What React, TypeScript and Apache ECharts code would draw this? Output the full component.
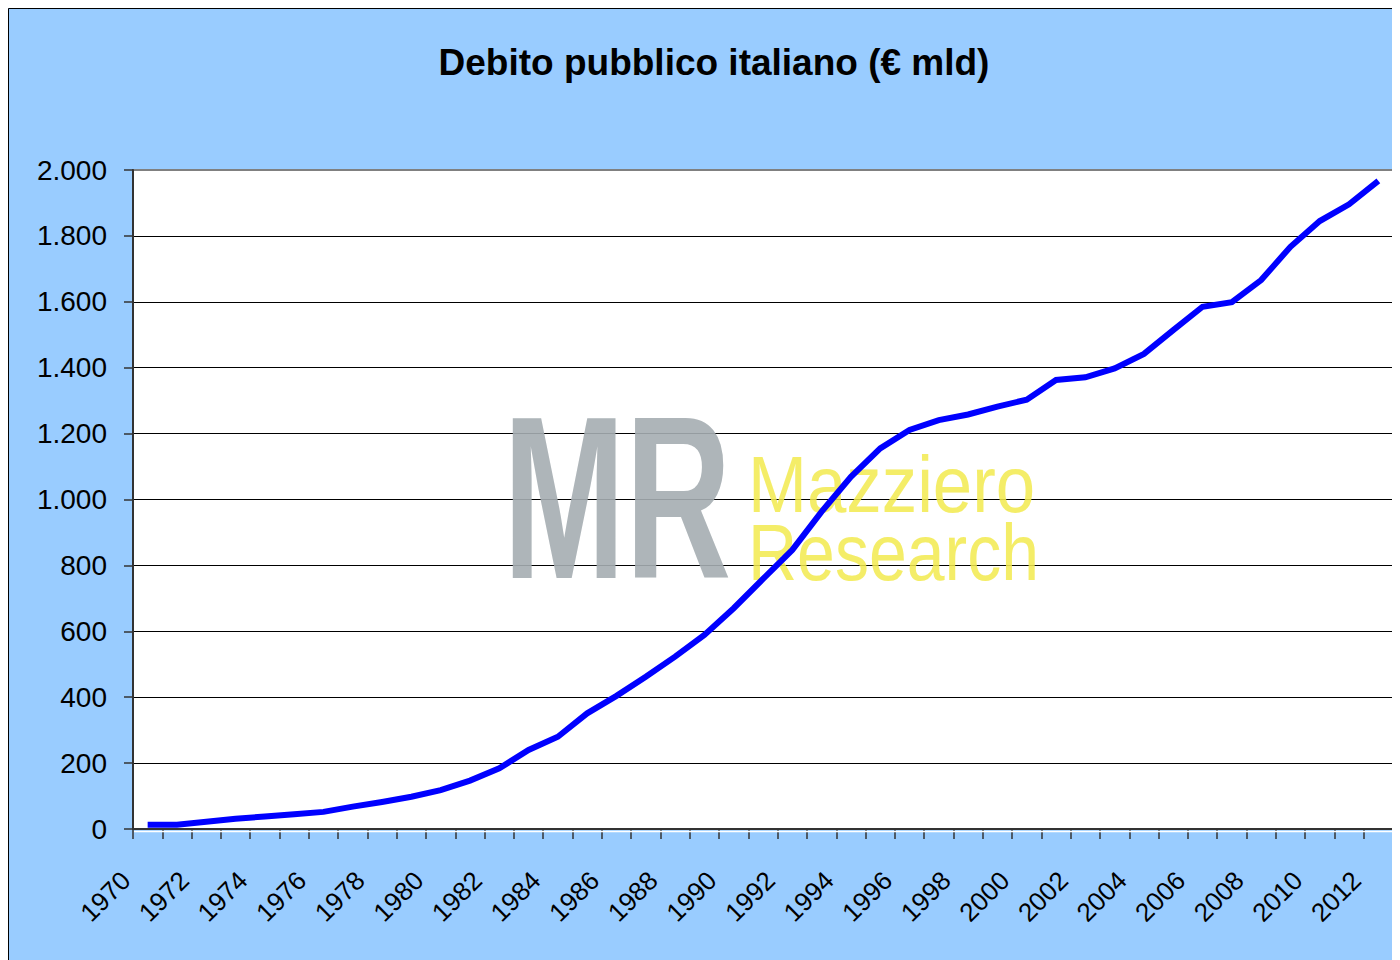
import React, { useEffect, useRef } from "react";
import * as echarts from "echarts";

const years: string[] = [
  "1970","1971","1972","1973","1974","1975","1976","1977","1978","1979",
  "1980","1981","1982","1983","1984","1985","1986","1987","1988","1989",
  "1990","1991","1992","1993","1994","1995","1996","1997","1998","1999",
  "2000","2001","2002","2003","2004","2005","2006","2007","2008","2009",
  "2010","2011","2012",
];

const debt: number[] = [
  13, 13, 22, 31, 38, 45, 52, 68, 82, 98,
  118, 147, 184, 240, 280, 351, 404, 462, 523, 589,
  670, 759, 847, 963, 1069, 1155, 1211, 1241, 1258, 1282,
  1303, 1363, 1371, 1398, 1442, 1514, 1585, 1599, 1666, 1767,
  1845, 1896, 1967,
];

const titleText = "Debito pubblico italiano (€ mld)";
const yMin = 0;
const yMax = 2000;
const yStep = 200;

const FONT = '"Liberation Sans", Arial, Helvetica, sans-serif';

function itFormat(v: number): string {
  if (v >= 1000) {
    const th = Math.floor(v / 1000);
    const rest = String(v % 1000).padStart(3, "0");
    return `${th}.${rest}`;
  }
  return String(v);
}

export default function App() {
  const ref = useRef<HTMLDivElement>(null);

  useEffect(() => {
    if (!ref.current) return;
    const chart = echarts.init(ref.current, null, { renderer: "svg" });
    chart.setOption({
      animation: false,
      backgroundColor: "#99CCFF",
      title: {
        text: titleText,
        left: 706,
        top: 36,
        textAlign: "center",
        padding: 0,
        textStyle: {
          fontFamily: FONT,
          fontSize: 37,
          fontWeight: "bold",
          color: "#000",
        },
      },
      grid: {
        left: 125,
        top: 162,
        right: 7,
        bottom: 131,
        show: true,
        backgroundColor: "#FFFFFF",
        borderColor: "#808080",
        borderWidth: 2,
        containLabel: false,
      },
      xAxis: {
        type: "category",
        data: years,
        boundaryGap: true,
        axisLine: { show: true, lineStyle: { color: "#333", width: 2 } },
        axisTick: {
          show: true,
          interval: 0,
          length: 10,
          inside: false,
          lineStyle: { color: "#333", width: 1.5 },
        },
        axisLabel: {
          interval: 1,
          rotate: 45,
          margin: 25,
          padding: [0, 31, 0, 0],
          fontFamily: FONT,
          fontSize: 26,
          color: "#000",
        },
        splitLine: { show: false },
      },
      yAxis: {
        type: "value",
        min: yMin,
        max: yMax,
        interval: yStep,
        axisLine: { show: true, lineStyle: { color: "#333", width: 2 } },
        axisTick: {
          show: true,
          length: 9,
          inside: false,
          lineStyle: { color: "#333", width: 1.5 },
        },
        axisLabel: {
          margin: 26,
          fontFamily: FONT,
          fontSize: 28,
          color: "#000",
          formatter: (v: number) => itFormat(v),
        },
        splitLine: {
          show: true,
          showMaxLine: false,
          lineStyle: { color: "#000", width: 1 },
        },
      },
      graphic: [
        {
          type: "text",
          x: 495,
          y: 489,
          scaleX: 0.63,
          z: 1,
          silent: true,
          style: {
            text: "MR",
            fontFamily: FONT,
            fontWeight: "bold",
            fontSize: 233,
            fill: "#A5ADB1",
            opacity: 0.9,
            align: "left",
            verticalAlign: "middle",
          },
        },
        {
          type: "text",
          x: 740,
          y: 476,
          scaleX: 0.885,
          z: 1,
          silent: true,
          style: {
            text: "Mazziero",
            fontFamily: FONT,
            fontSize: 80,
            fill: "#F2EA4E",
            opacity: 0.85,
            align: "left",
            verticalAlign: "middle",
          },
        },
        {
          type: "text",
          x: 740,
          y: 545,
          scaleX: 0.85,
          z: 1,
          silent: true,
          style: {
            text: "Research",
            fontFamily: FONT,
            fontSize: 80,
            fill: "#F2EA4E",
            opacity: 0.85,
            align: "left",
            verticalAlign: "middle",
          },
        },
        {
          type: "line",
          z: 1,
          silent: true,
          shape: { x1: 126, y1: 823.5, x2: 1388, y2: 823.5 },
          style: { stroke: "#FFFFFF", lineWidth: 1.5 },
        },
        {
          type: "rect",
          z: 100,
          silent: true,
          shape: { x: 0.5, y: 0.5, width: 1500, height: 1100 },
          style: { fill: "none", stroke: "#000", lineWidth: 1 },
        },
      ],
      series: [
        {
          type: "line",
          data: debt,
          symbol: "none",
          z: 5,
          lineStyle: { color: "#0000FF", width: 6, join: "miter" },
          itemStyle: { color: "#0000FF" },
        },
      ],
    });
    return () => {
      chart.dispose();
    };
  }, []);

  return <div ref={ref} style={{ width: 1392, height: 952 }} />;
}
